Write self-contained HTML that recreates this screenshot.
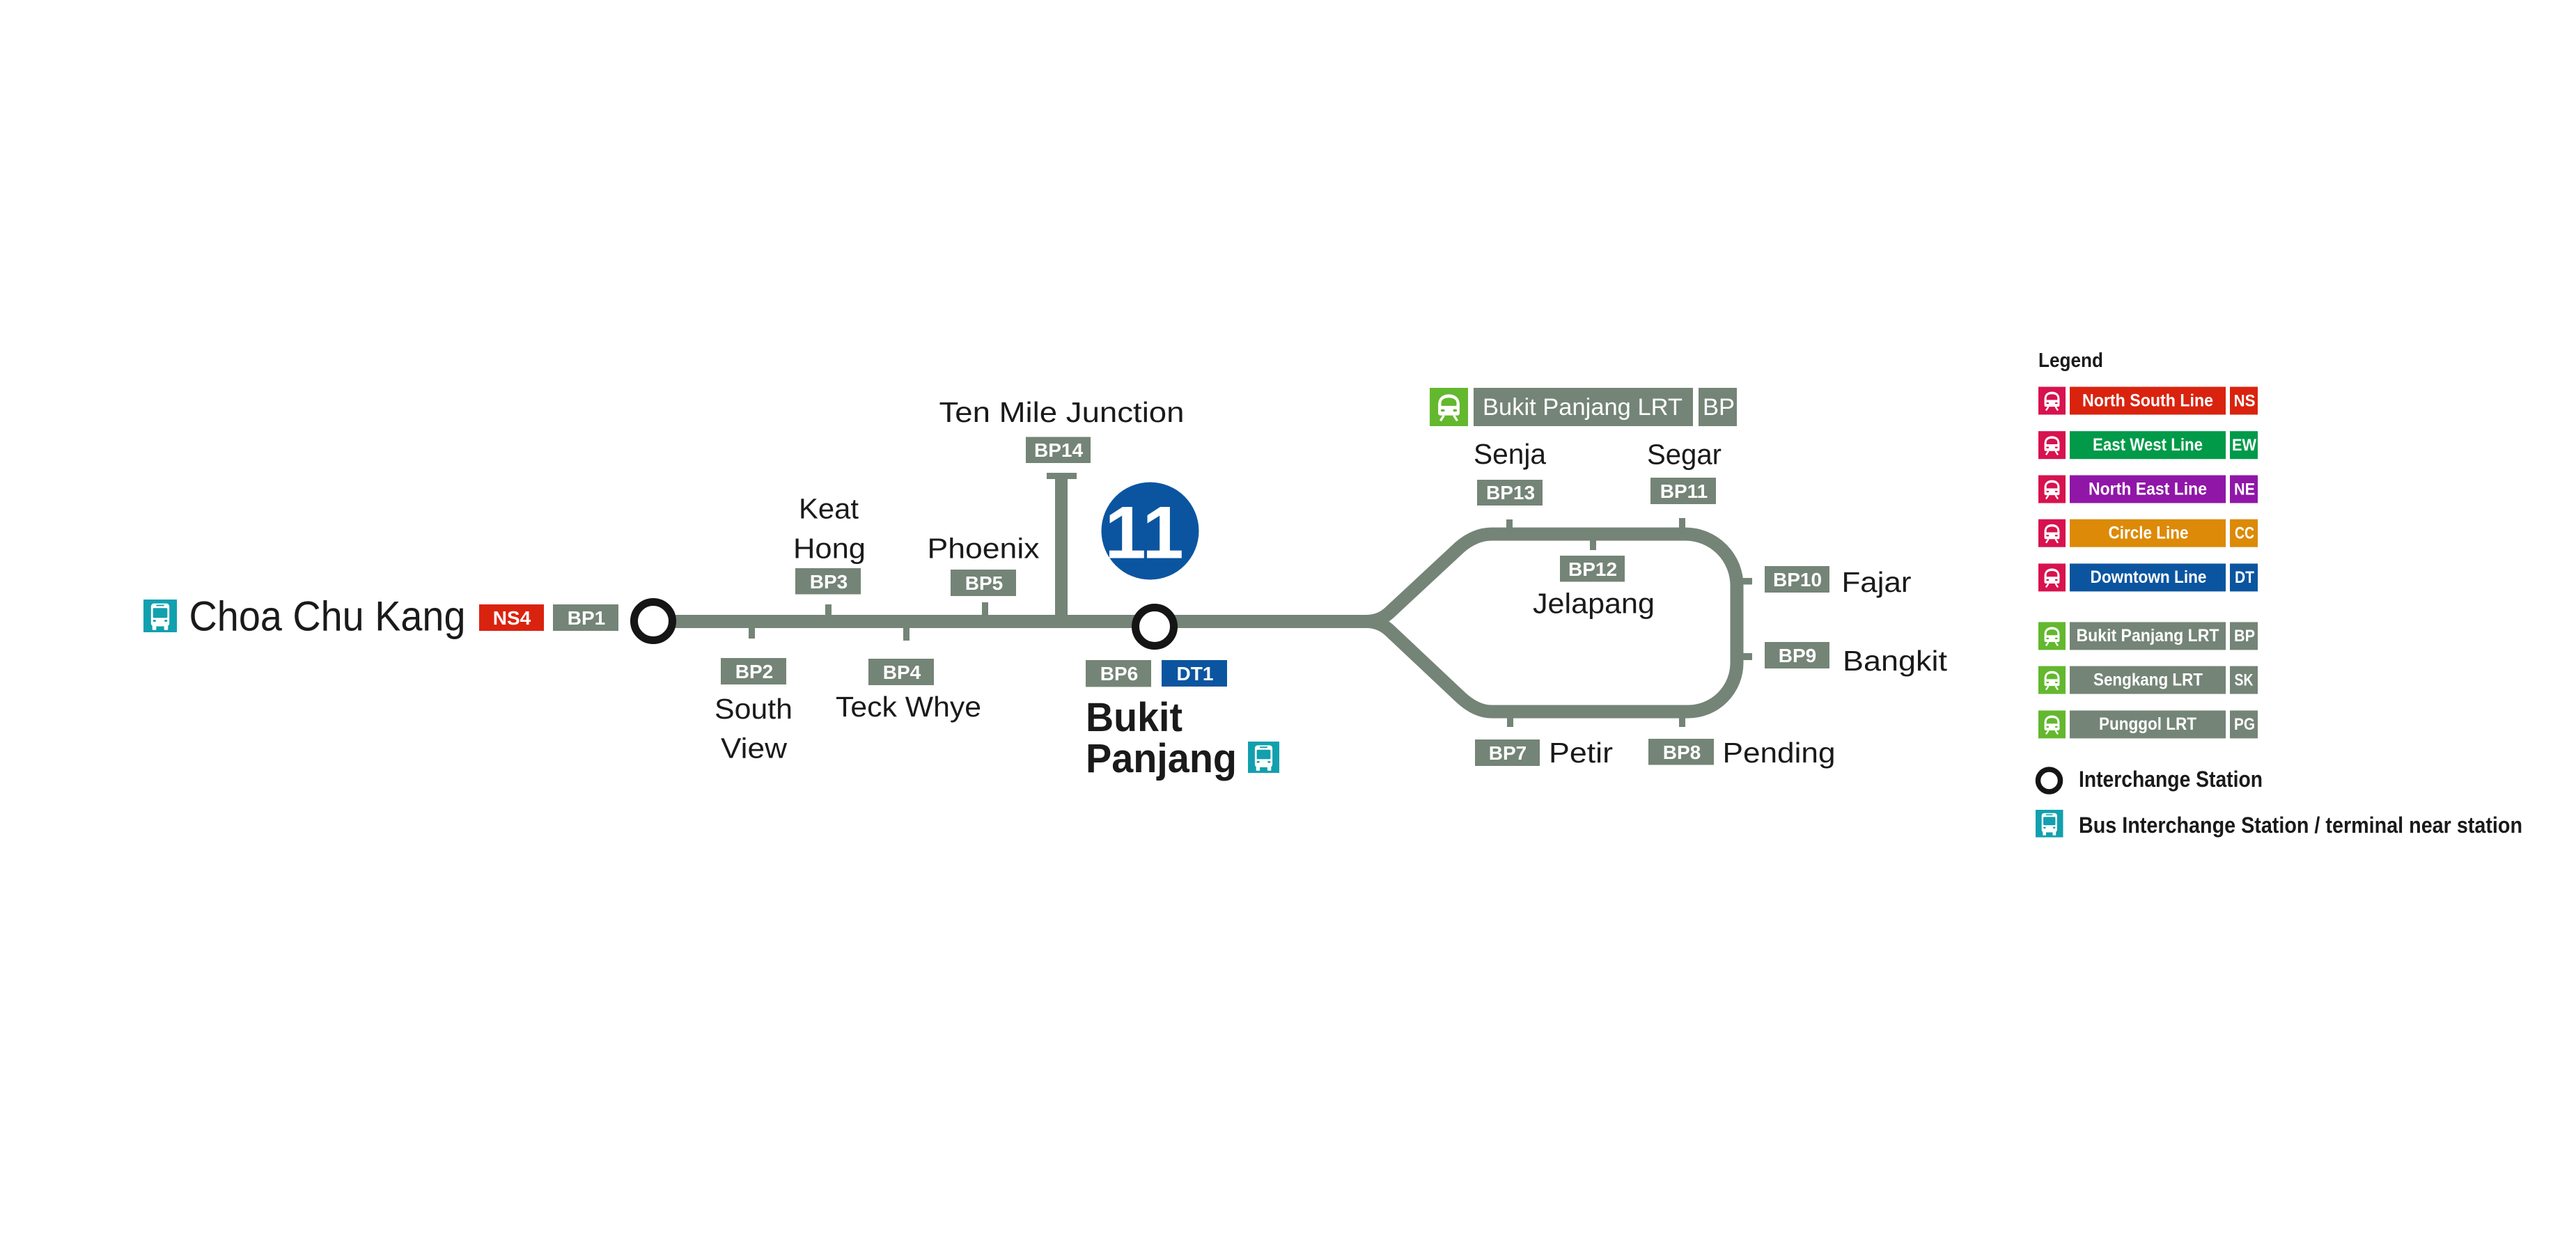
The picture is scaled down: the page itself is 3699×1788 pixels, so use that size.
<!DOCTYPE html>
<html>
<head>
<meta charset="utf-8">
<style>
html,body{margin:0;padding:0;background:#fff;}
body{width:3699px;height:1788px;overflow:hidden;}
svg{display:block;}
.st{font-family:"Liberation Sans",sans-serif;fill:#1a1a1a;font-size:41px;}
.bx{font-family:"Liberation Sans",sans-serif;fill:#fff;font-weight:bold;font-size:28px;text-anchor:middle;}
.lg{font-family:"Liberation Sans",sans-serif;fill:#fff;font-weight:bold;font-size:25px;text-anchor:middle;}
.lc{font-family:"Liberation Sans",sans-serif;fill:#fff;font-weight:bold;font-size:24px;text-anchor:middle;}
.lt{font-family:"Liberation Sans",sans-serif;fill:#1a1a1a;font-weight:bold;}
</style>
</head>
<body>
<svg width="3699" height="1788" viewBox="0 0 3699 1788" xmlns="http://www.w3.org/2000/svg">
<defs>
  <symbol id="train" viewBox="0 0 100 100">
    <path fill="#fff" d="M22,44 C22,26 34,17 50,17 C66,17 78,26 78,44 L78,66 Q78,72 72,72 L28,72 Q22,72 22,66 Z"/>
    <path fill="currentColor" d="M30,47 L30,40 C30,31 38,26 50,26 C62,26 70,31 70,40 L70,47 Z"/>
    <rect x="29" y="56" width="10" height="6" rx="3" fill="currentColor"/>
    <rect x="61" y="56" width="10" height="6" rx="3" fill="currentColor"/>
    <path d="M37,72 L28,86 M63,72 L72,86" stroke="#fff" stroke-width="6" fill="none"/>
  </symbol>
  <symbol id="bus" viewBox="0 0 100 100">
    <rect x="22" y="12" width="56" height="70" rx="9" fill="#fff"/>
    <rect x="38" y="16" width="24" height="4" fill="currentColor"/>
    <rect x="28" y="26" width="44" height="30" rx="3" fill="currentColor"/>
    <rect x="28" y="62" width="9" height="6" rx="3" fill="currentColor"/>
    <rect x="63" y="62" width="9" height="6" rx="3" fill="currentColor"/>
    <rect x="26" y="78" width="12" height="15" rx="2" fill="#fff"/>
    <rect x="62" y="78" width="12" height="15" rx="2" fill="#fff"/>
  </symbol>
</defs>

<rect x="0" y="0" width="3699" height="1788" fill="#fff"/>

<!-- ===== Lines ===== -->
<g fill="none" stroke="#748477" stroke-width="19" stroke-linejoin="round">
  <path d="M938 892.5 L1968 892.5"/>
  <path d="M1962 892.5 Q1982 892.5 1996 879 L2096 786 Q2118 767 2142 767 L2420 767 A74 74 0 0 1 2494 841 L2494 952 A70 70 0 0 1 2424 1022 L2142 1022 Q2120 1022 2098 1002 L1996 906 Q1982 892.5 1962 892.5"/>
</g>

<!-- ticks -->
<g fill="#748477">
  <rect x="1075" y="898" width="9" height="19"/>
  <rect x="1185" y="868" width="9" height="18"/>
  <rect x="1297" y="898" width="9" height="22"/>
  <rect x="1410" y="865" width="9" height="22"/>
  <rect x="2163" y="746" width="9" height="15"/>
  <rect x="2411" y="744" width="9" height="17"/>
  <rect x="2283" y="772" width="9" height="18"/>
  <rect x="2500" y="830" width="16" height="9.5"/>
  <rect x="2500" y="938" width="16" height="10"/>
  <rect x="2164" y="1028" width="9" height="16"/>
  <rect x="2411" y="1028" width="9" height="16"/>
  <!-- Ten Mile Junction stem -->
  <rect x="1515" y="683" width="18" height="210"/>
  <rect x="1503" y="679" width="43" height="9"/>
</g>

<!-- interchange circles -->
<circle cx="938" cy="892" r="27.5" fill="#fff" stroke="#151515" stroke-width="11"/>
<circle cx="1658" cy="900" r="27.5" fill="#fff" stroke="#151515" stroke-width="11"/>

<!-- 11 badge -->
<circle cx="1651.5" cy="762.5" r="70" fill="#0b55a0"/>
<g font-family="'Liberation Sans',sans-serif" font-weight="bold" font-size="107" fill="#fff" text-anchor="middle">
  <text x="1616" y="801.5">1</text>
  <text x="1670" y="801.5">1</text>
</g>

<!-- ===== Code boxes ===== -->
<g fill="#748477">
  <rect x="794" y="868" width="94" height="38"/>
  <rect x="1035" y="945" width="94" height="38"/>
  <rect x="1142" y="816" width="94" height="37.5"/>
  <rect x="1247" y="946" width="94" height="38"/>
  <rect x="1365" y="818" width="94" height="38"/>
  <rect x="1473" y="627.5" width="93" height="37.5"/>
  <rect x="1559" y="948" width="94" height="38.5"/>
  <rect x="2121" y="689" width="94" height="37"/>
  <rect x="2370" y="686" width="94" height="38"/>
  <rect x="2240" y="798" width="93" height="37.5"/>
  <rect x="2534" y="813" width="93" height="38"/>
  <rect x="2534" y="922" width="93" height="38"/>
  <rect x="2118" y="1062" width="93" height="38"/>
  <rect x="2367" y="1061" width="94" height="37.5"/>
</g>
<rect x="688" y="868" width="93" height="38" fill="#d9230f"/>
<rect x="1668" y="948" width="94" height="38" fill="#0b55a0"/>

<g class="bx">
  <text x="735" y="897">NS4</text>
  <text x="842" y="897">BP1</text>
  <text x="1083" y="974">BP2</text>
  <text x="1190" y="845">BP3</text>
  <text x="1295" y="975">BP4</text>
  <text x="1413" y="847">BP5</text>
  <text x="1520" y="656">BP14</text>
  <text x="1607" y="977">BP6</text>
  <text x="1716" y="977">DT1</text>
  <text x="2169" y="717">BP13</text>
  <text x="2418" y="715">BP11</text>
  <text x="2287" y="827">BP12</text>
  <text x="2581" y="842">BP10</text>
  <text x="2581" y="951">BP9</text>
  <text x="2165" y="1091">BP7</text>
  <text x="2415" y="1090">BP8</text>
</g>

<!-- ===== Station names ===== -->
<g class="st">
  <text x="1147" y="744.3" textLength="86" lengthAdjust="spacingAndGlyphs">Keat</text>
  <text x="1139" y="801.7" textLength="104" lengthAdjust="spacingAndGlyphs">Hong</text>
  <text x="1331.5" y="801.7" textLength="161" lengthAdjust="spacingAndGlyphs">Phoenix</text>
  <text x="1348.5" y="606" textLength="352" lengthAdjust="spacingAndGlyphs">Ten Mile Junction</text>
  <text x="1026" y="1032" textLength="112" lengthAdjust="spacingAndGlyphs">South</text>
  <text x="1035" y="1088.5" textLength="95" lengthAdjust="spacingAndGlyphs">View</text>
  <text x="1200" y="1029" textLength="209" lengthAdjust="spacingAndGlyphs">Teck Whye</text>
  <text x="2116" y="666" textLength="104" lengthAdjust="spacingAndGlyphs">Senja</text>
  <text x="2365" y="666.5" textLength="107" lengthAdjust="spacingAndGlyphs">Segar</text>
  <text x="2201" y="880.6" textLength="175" lengthAdjust="spacingAndGlyphs">Jelapang</text>
  <text x="2644.5" y="850" textLength="100" lengthAdjust="spacingAndGlyphs">Fajar</text>
  <text x="2646" y="963" textLength="150" lengthAdjust="spacingAndGlyphs">Bangkit</text>
  <text x="2224" y="1095" textLength="92" lengthAdjust="spacingAndGlyphs">Petir</text>
  <text x="2473.5" y="1095" textLength="162" lengthAdjust="spacingAndGlyphs">Pending</text>
  <text x="271.5" y="905.5" font-size="60" textLength="397" lengthAdjust="spacingAndGlyphs">Choa Chu Kang</text>
  <text x="1559" y="1050" font-size="58" font-weight="bold" textLength="139" lengthAdjust="spacingAndGlyphs">Bukit</text>
  <text x="1559" y="1109" font-size="58" font-weight="bold" textLength="217" lengthAdjust="spacingAndGlyphs">Panjang</text>
</g>

<!-- bus icons on map -->
<rect x="206" y="861" width="48" height="47" fill="#12a0ae"/>
<use href="#bus" x="206" y="861" width="48" height="47" color="#12a0ae"/>
<rect x="1792" y="1065" width="45" height="45" fill="#12a0ae"/>
<use href="#bus" x="1792" y="1065" width="45" height="45" color="#12a0ae"/>

<!-- Bukit Panjang LRT banner -->
<rect x="2053" y="557" width="55" height="55" fill="#63b82e"/>
<use href="#train" x="2053" y="557" width="55" height="55" color="#63b82e"/>
<rect x="2116" y="557" width="315" height="55" fill="#748477"/>
<rect x="2439" y="557" width="55" height="55" fill="#748477"/>
<text x="2129" y="596" font-family="'Liberation Sans',sans-serif" font-size="34" fill="#fff" textLength="287" lengthAdjust="spacingAndGlyphs">Bukit Panjang LRT</text>
<text x="2445" y="596" font-family="'Liberation Sans',sans-serif" font-size="34" fill="#fff" textLength="46" lengthAdjust="spacingAndGlyphs">BP</text>

<!-- ===== Legend ===== -->
<text class="lt" x="2927" y="527" font-size="29" textLength="93" lengthAdjust="spacingAndGlyphs">Legend</text>

<!-- MRT rows -->
<g>
  <rect x="2927" y="555.5" width="39" height="40" fill="#d7124f"/>
  <use href="#train" x="2927" y="555.5" width="39" height="40" color="#d7124f"/>
  <rect x="2972" y="555.5" width="224" height="40" fill="#d9230f"/>
  <rect x="3202" y="555.5" width="40" height="40" fill="#d9230f"/>
  <text class="lg" x="3084" y="583.3" textLength="188" lengthAdjust="spacingAndGlyphs">North South Line</text>
  <text class="lc" x="3223" y="583.3" textLength="31" lengthAdjust="spacingAndGlyphs">NS</text>

  <rect x="2927" y="619.2" width="39" height="40" fill="#d7124f"/>
  <use href="#train" x="2927" y="619.2" width="39" height="40" color="#d7124f"/>
  <rect x="2972" y="619.2" width="224" height="40" fill="#009a49"/>
  <rect x="3202" y="619.2" width="40" height="40" fill="#009a49"/>
  <text class="lg" x="3084" y="647" textLength="158" lengthAdjust="spacingAndGlyphs">East West Line</text>
  <text class="lc" x="3222.5" y="647" textLength="35" lengthAdjust="spacingAndGlyphs">EW</text>

  <rect x="2927" y="682.5" width="39" height="40" fill="#d7124f"/>
  <use href="#train" x="2927" y="682.5" width="39" height="40" color="#d7124f"/>
  <rect x="2972" y="682.5" width="224" height="40" fill="#9016a8"/>
  <rect x="3202" y="682.5" width="40" height="40" fill="#9016a8"/>
  <text class="lg" x="3084" y="710.3" textLength="170" lengthAdjust="spacingAndGlyphs">North East Line</text>
  <text class="lc" x="3223" y="710.3" textLength="30" lengthAdjust="spacingAndGlyphs">NE</text>

  <rect x="2927" y="745.7" width="39" height="40" fill="#d7124f"/>
  <use href="#train" x="2927" y="745.7" width="39" height="40" color="#d7124f"/>
  <rect x="2972" y="745.7" width="224" height="40" fill="#dc8a08"/>
  <rect x="3202" y="745.7" width="40" height="40" fill="#dc8a08"/>
  <text class="lg" x="3085" y="773.5" textLength="115" lengthAdjust="spacingAndGlyphs">Circle Line</text>
  <text class="lc" x="3223" y="773.5" textLength="28" lengthAdjust="spacingAndGlyphs">CC</text>

  <rect x="2927" y="809.4" width="39" height="40" fill="#d7124f"/>
  <use href="#train" x="2927" y="809.4" width="39" height="40" color="#d7124f"/>
  <rect x="2972" y="809.4" width="224" height="40" fill="#0b55a0"/>
  <rect x="3202" y="809.4" width="40" height="40" fill="#0b55a0"/>
  <text class="lg" x="3085" y="837.2" textLength="167" lengthAdjust="spacingAndGlyphs">Downtown Line</text>
  <text class="lc" x="3223" y="837.2" textLength="28" lengthAdjust="spacingAndGlyphs">DT</text>
</g>

<!-- LRT rows -->
<g>
  <rect x="2927" y="893.4" width="39" height="40" fill="#63b82e"/>
  <use href="#train" x="2927" y="893.4" width="39" height="40" color="#63b82e"/>
  <rect x="2972" y="893.4" width="224" height="40" fill="#748477"/>
  <rect x="3202" y="893.4" width="40" height="40" fill="#748477"/>
  <text class="lg" x="3084" y="921.2" textLength="205" lengthAdjust="spacingAndGlyphs">Bukit Panjang LRT</text>
  <text class="lc" x="3223" y="921.2" textLength="30" lengthAdjust="spacingAndGlyphs">BP</text>

  <rect x="2927" y="956.6" width="39" height="40" fill="#63b82e"/>
  <use href="#train" x="2927" y="956.6" width="39" height="40" color="#63b82e"/>
  <rect x="2972" y="956.6" width="224" height="40" fill="#748477"/>
  <rect x="3202" y="956.6" width="40" height="40" fill="#748477"/>
  <text class="lg" x="3084.5" y="984.4" textLength="157" lengthAdjust="spacingAndGlyphs">Sengkang LRT</text>
  <text class="lc" x="3222" y="984.4" textLength="27" lengthAdjust="spacingAndGlyphs">SK</text>

  <rect x="2927" y="1020.4" width="39" height="40" fill="#63b82e"/>
  <use href="#train" x="2927" y="1020.4" width="39" height="40" color="#63b82e"/>
  <rect x="2972" y="1020.4" width="224" height="40" fill="#748477"/>
  <rect x="3202" y="1020.4" width="40" height="40" fill="#748477"/>
  <text class="lg" x="3084" y="1048.2" textLength="140" lengthAdjust="spacingAndGlyphs">Punggol LRT</text>
  <text class="lc" x="3223" y="1048.2" textLength="30" lengthAdjust="spacingAndGlyphs">PG</text>
</g>

<!-- Interchange + bus legend -->
<circle cx="2942.5" cy="1121" r="16" fill="#fff" stroke="#151515" stroke-width="7.5"/>
<text class="lt" x="2985" y="1130" font-size="32" textLength="264" lengthAdjust="spacingAndGlyphs">Interchange Station</text>
<rect x="2923" y="1163" width="39.5" height="39.5" fill="#12a0ae"/>
<use href="#bus" x="2923" y="1163" width="39.5" height="39.5" color="#12a0ae"/>
<text class="lt" x="2985" y="1196" font-size="32" textLength="637" lengthAdjust="spacingAndGlyphs">Bus Interchange Station / terminal near station</text>
</svg>
</body>
</html>
